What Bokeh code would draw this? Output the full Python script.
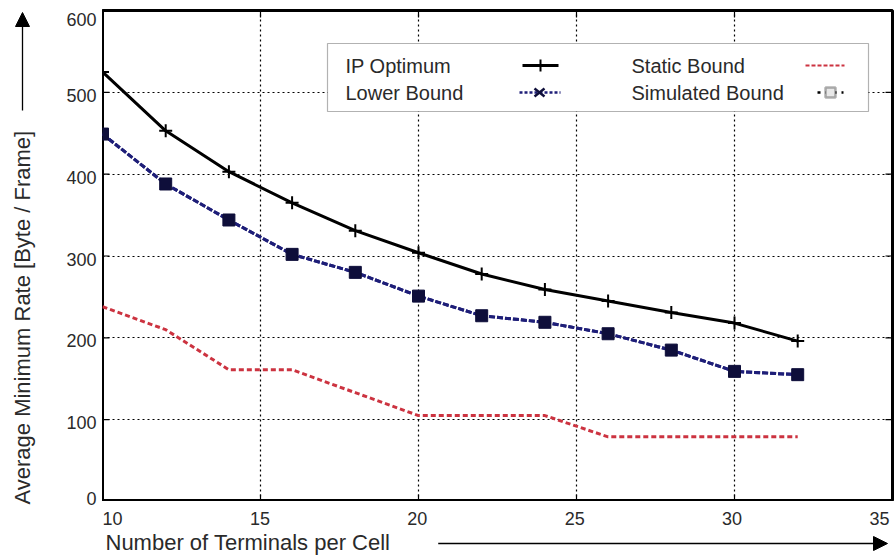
from math import pi
from bokeh.plotting import figure
from bokeh.layouts import row, column
from bokeh.models import (ColumnDataSource, Label, Arrow, NormalHead, BoxAnnotation,
                          Range1d, FixedTicker, Grid)
from bokeh.embed import file_html
from bokeh.resources import INLINE

# ---------------- data ----------------
terminals = [10, 12, 14, 16, 18, 20, 22, 24, 26, 28, 30, 32]
ip_optimum = [525, 453, 403, 365, 331, 304, 278, 259, 245, 231, 218, 196]
lower_bound = [449, 388, 344, 302, 280, 251, 227, 219, 205, 185, 159, 155]
static_bound = [238, 210, 161, 161, 133, 105, 105, 105, 79, 79, 79, 79]
simulated_bound = [449, 388, 344, 302, 280, 251, 227, 219, 205, 185, 159, 155]

x_ticks = [10, 15, 20, 25, 30, 35]
y_ticks = [0, 100, 200, 300, 400, 500, 600]
x_title = "Number of Terminals per Cell"
y_title = "Average Minimum Rate [Byte / Frame]"
legend_names = ["IP Optimum", "Lower Bound", "Static Bound", "Simulated Bound"]

FONT = "Liberation Sans"
TXT = "#2a2a2a"
NAVY = "#1e1e78"
SQ = "#0e0e3a"
RED = "#cc3340"

# layout geometry (pixels)
FRAME_L, FRAME_T, FRAME_W, FRAME_H = 102, 10, 790, 491
RIGHT_PAD, BOTTOM_H = 3, 54
XPX = FRAME_W / (x_ticks[-1] - x_ticks[0])      # px per x unit
YPX = FRAME_H / (y_ticks[-1] - y_ticks[0])      # px per y unit


def dx(px):
    return x_ticks[0] + (px - FRAME_L) / XPX


def dy(py):
    return (FRAME_T + FRAME_H - py) / YPX


def strip(width, height, xr, yr):
    f = figure(width=width, height=height, x_range=xr, y_range=yr,
               output_backend="svg", toolbar_location=None,
               x_axis_location=None, y_axis_location=None, min_border=0)
    f.grid.visible = False
    f.outline_line_color = None
    f.background_fill_color = "white"
    f.border_fill_color = "white"
    return f


src = ColumnDataSource(dict(x=terminals, ip=ip_optimum, lb=lower_bound,
                            st=static_bound, sim=simulated_bound))

# ---------------- main plot ----------------
p = figure(width=FRAME_W + RIGHT_PAD, height=FRAME_T + FRAME_H,
           x_range=Range1d(x_ticks[0], x_ticks[-1]), y_range=Range1d(y_ticks[0], y_ticks[-1]),
           output_backend="svg", toolbar_location=None,
           x_axis_location=None, y_axis_location=None,
           min_border_left=0, min_border_right=RIGHT_PAD, min_border_top=FRAME_T,
           min_border_bottom=0)
p.grid.visible = False
p.background_fill_color = "white"
p.border_fill_color = "white"
p.outline_line_color = "black"
p.outline_line_width = 3

for dim, ticks in ((0, x_ticks), (1, y_ticks)):
    p.add_layout(Grid(dimension=dim, ticker=FixedTicker(ticks=ticks),
                      grid_line_color="black", grid_line_dash="2 3", grid_line_width=1.2))

# inward tick marks on all four sides
tl = 7
p.segment(x0=x_ticks, y0=[y_ticks[0]] * len(x_ticks), x1=x_ticks,
          y1=[y_ticks[0] + tl / YPX] * len(x_ticks), line_color="black", line_width=1.2)
p.segment(x0=x_ticks, y0=[y_ticks[-1]] * len(x_ticks), x1=x_ticks,
          y1=[y_ticks[-1] - tl / YPX] * len(x_ticks), line_color="black", line_width=1.2)
p.segment(x0=[x_ticks[0]] * len(y_ticks), y0=y_ticks, x1=[x_ticks[0] + tl / XPX] * len(y_ticks),
          y1=y_ticks, line_color="black", line_width=1.2)
p.segment(x0=[x_ticks[-1]] * len(y_ticks), y0=y_ticks, x1=[x_ticks[-1] - tl / XPX] * len(y_ticks),
          y1=y_ticks, line_color="black", line_width=1.2)

# series
p.line("x", "st", source=src, line_color=RED, line_width=3, line_dash="5 3")
p.line("x", "ip", source=src, line_color="black", line_width=3)
p.scatter("x", "ip", source=src, marker="cross", size=13, line_color="black", line_width=2)
p.line("x", "lb", source=src, line_color=NAVY, line_width=3, line_dash="6 2")
p.scatter("x", "lb", source=src, marker="x", size=10, line_color=NAVY, line_width=2)
p.line("x", "sim", source=src, line_color=NAVY, line_width=3, line_dash="6 2")
p.scatter("x", "sim", source=src, marker="square", size=12, fill_color=SQ,
          line_color=SQ, line_width=1)

# ---------------- legend (text left of sample) ----------------
p.add_layout(BoxAnnotation(left=dx(327), right=dx(868), bottom=dy(111), top=dy(43),
                           fill_color="white", fill_alpha=1, line_color="black",
                           line_width=1.2))
rows = [dy(65), dy(92)]
cols_text = [dx(345), dx(631)]
for k, name in enumerate(legend_names):
    c, r = divmod(k, 2)
    p.add_layout(Label(x=cols_text[c], y=rows[r], text=name, text_align="left",
                       text_baseline="middle", text_font=FONT, text_font_size="20px",
                       text_color=TXT))


def seg(x0, y0, x1, y1, **kw):
    p.add_layout(Arrow(x_start=x0, y_start=y0, x_end=x1, y_end=y1, start=None, end=None, **kw))


# IP Optimum sample
a, b = dx(522), dx(558)
m = (a + b) / 2
seg(a, rows[0], b, rows[0], line_color="black", line_width=3)
seg(m, rows[0] - 6 / YPX, m, rows[0] + 6 / YPX, line_color="black", line_width=2)
# Lower Bound sample
a, b = dx(519), dx(560)
m = dx(539)
seg(a, rows[1], b, rows[1], line_color=NAVY, line_width=2.5, line_dash="3 2")
hx, hy = 5 / XPX, 4 / YPX
seg(m - hx, rows[1] - hy, m + hx, rows[1] + hy, line_color=SQ, line_width=2.5)
seg(m - hx, rows[1] + hy, m + hx, rows[1] - hy, line_color=SQ, line_width=2.5)
# Static Bound sample
seg(dx(805), rows[0], dx(844), rows[0], line_color=RED, line_width=2, line_dash="4 2")
# Simulated Bound sample
seg(dx(817), rows[1], dx(843), rows[1], line_color="black", line_width=2.5, line_dash="3 5")
m3 = dx(830)
p.add_layout(BoxAnnotation(left=m3 - 5 / XPX, right=m3 + 5 / XPX, bottom=rows[1] - 5 / YPX,
                           top=rows[1] + 5 / YPX, fill_color="#e8e8e8", fill_alpha=1,
                           line_color="black", line_width=2.5))

# ---------------- left strip: y tick labels and y title (full height) ----------------
left = strip(FRAME_L, FRAME_T + FRAME_H + BOTTOM_H, Range1d(0, FRAME_L),
             Range1d(-BOTTOM_H / YPX, (FRAME_T + FRAME_H) / YPX))
for t in y_ticks:
    off = -9 if t == y_ticks[-1] else (3 if t == y_ticks[0] else -3)
    left.add_layout(Label(x=96, y=t, text=str(t), text_align="right", text_baseline="middle",
                          y_offset=off, text_font=FONT, text_font_size="18px", text_color=TXT))
left.add_layout(Label(x=22, y=0, text=y_title, text_align="left", text_baseline="middle",
                      angle=pi / 2, y_offset=-3, text_font=FONT, text_font_size="22px",
                      text_color=TXT))
left.add_layout(Arrow(x_start=22, y_start=dy(110), x_end=22, y_end=dy(12),
                      line_color="black", line_width=1.3,
                      end=NormalHead(size=14, fill_color="black", line_color="black")))

# ---------------- bottom strip: x tick labels and x title ----------------
bottom = strip(FRAME_W + RIGHT_PAD, BOTTOM_H,
               Range1d(dx(FRAME_L), dx(FRAME_L + FRAME_W + RIGHT_PAD)), Range1d(0, BOTTOM_H))
for i, t in enumerate(x_ticks):
    align = "left" if i == 0 else ("right" if i == len(x_ticks) - 1 else "center")
    bottom.add_layout(Label(x=t, y=BOTTOM_H - 10, text=str(t), text_align=align,
                            text_baseline="top", text_font=FONT, text_font_size="18px",
                            text_color=TXT))
bottom.add_layout(Label(x=dx(105), y=13, text=x_title, text_align="left",
                        text_baseline="middle", text_font=FONT, text_font_size="22px",
                        text_color=TXT))
bottom.add_layout(Arrow(x_start=dx(439), y_start=12, x_end=dx(890), y_end=12,
                        line_color="black", line_width=1.3,
                        end=NormalHead(size=14, fill_color="black", line_color="black")))

layout = row(left, column(p, bottom))
open("out.html", "w").write(file_html(layout, INLINE))
